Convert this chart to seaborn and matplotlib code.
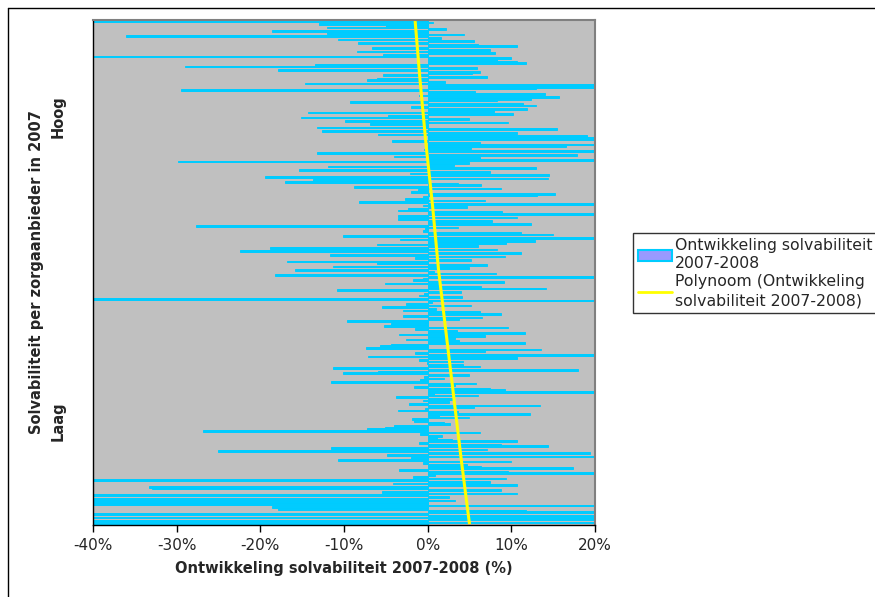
import numpy as np
import pandas as pd
import matplotlib
matplotlib.use("Agg")
import matplotlib.pyplot as plt
from matplotlib.lines import Line2D
from matplotlib.patches import Patch
import seaborn as sns

# =========================================
# Data (top -> bottom, in %)
# =========================================
s1 = [-42, 0.6, -13, -5, -12, 2.2, -18.6, -12, 4.3, -36, 1.6, -10.7, 5.5, -8.3, 6, 10.7,
      -6.7, 7.4, -8.5, 8, -5.3, -42, 10, 8.3, 10.7, 11.8, -13.5, -29, 5.9, -17.9, 6.2, 5.3,
      -5.3, 7.1, -6.1, -7.3, 2.1, -14.7, 21]
s2 = [21, 13, -29.5, 5.7, 14, -1, 15.7, 12.3, 8.3, -9.3, 11.4, 12.9, -2, 11.9, 7.9, -14.3,
      10.2, -4.7, -15.1, 4.9, -9.9, 9.6, -6.9, -0.5, -13.2, 15.4, -12.6, 10.7, -5.9, 19.1,
      21, 21, -4.3, 6.3]
s3 = [21, 16.5, 5.2, -0.4, 21, -13.2, 17.9, -4, 6.2, 21, -29.8, 4.9, 3.1, -11.9, 13, -15.4,
      7.5, -2.1, 14.5, -19.4, 14.4, -13.7, -17, 3.6, 6.4, -8.8, 8.8, -1.2, -2, 15.2, 13.1,
      -0.5, -2.7, 6.8, -8.2, 21]
s4 = [-0.5, 4.7, -2.4, -3.5, 8.9, 21, -3.5, 10.7, -3.5, 7.7, 5.3, 12.4, -27.7, 3.6, -0.3,
      -0.5, 11.1, 15, -10.1, 21, -3.3, 12.8, 9.4, -6.1, 6, -18.9, 8.3, -22.4, 11.2, -11.7,
      9.2, -1.5, 5.2, -16.8, -6, 7.1, -11.3]
s5 = [4.9, -15.9, 0.8, 8.2, -18.3, 21, -0.6, -1.8, 9.1, -5.1, 1.2, 6.4, 14.1, -10.8, 4, -0.4,
      -1, 4.1, -42, 21, 0.5, -2.6, 5.2, -5.5, 1.0, -3, 6.3, 8.8, -2.9, 6.5, 3.8, -9.7, -0.3,
      -4.4, -5.2, 9.6]
s6 = [-1.5, 3.5, 11.6, -3.4, 6.8, 3.3, -2.6, 3.8, 11.6, -4.4, -5.7, -7.4, 13.6, 6.9, -1.5,
      21, -7.1, 10.7, -1, 4.2, -0.1, 4.2, 6.3, -11.3, 18, -5.9, -10.1, 4.9, -0.4, 1.9, -0.9,
      -11.6, 5.8, 3.3, -1.6, 7.5]
s7 = [9.2, 21, 0.7, 6, -3.8, 2.9, -0.5, 2.5, -2.2, 13.4, 5.5, -0.3, -3.5, 3.6, 12.2, 1.4,
      4.9, -1.9, -1.6, 1.9, 2.7, -4, -5.1, -7.2, -26.9, 6.2, -0.9, 1.7, 1.1, 2.9, 10.7,
      -1, 8.8, 14.4]
s8 = [-11.5, 7.1, -25.1, 19.4, -4.9, 21, -2, -10.7, 10, -0.5, 4.7, 6.4, 17.4, -3.4, 9.6,
      21, 0.9, -1.7, 9.4, -42, 7.4, -4.1, 10.7, -33.3, -32.9, 8.8, -5.4, 10.7, -42, 2.5,
      -42, 3.3, -42, -42, 21, -18.6, -17.9, 11.8, 21, -42, 21, -42, 21, -42, 21, -42]

waarden = s1 + s2 + s3 + s4 + s5 + s6 + s7 + s8

# polynomial trendline, read at fractions of the way down the bars
trend_frac = [0.0, 0.12, 0.245, 0.37, 0.495, 0.62, 0.745, 0.87, 1.0]
trend_val = [-1.5, -0.9, -0.2, 0.6, 1.3, 2.2, 3.1, 4.0, 5.0]

x_ticks = [-40, -30, -20, -10, 0, 10, 20]
x_ticklabels = ["-40%", "-30%", "-20%", "-10%", "0%", "10%", "20%"]

df = pd.DataFrame({"rij": [str(i) for i in range(len(waarden))], "ontwikkeling": waarden})
n = len(df)

# =========================================
# Plot
# =========================================
sns.set_style("white")
plt.rcParams["font.family"] = ["DejaVu Sans"]

fig = plt.figure(figsize=(8.75, 5.97), dpi=100)
ax = fig.add_axes([93 / 875, 1 - 525 / 597, (595 - 93) / 875, (525 - 20) / 597])
ax.set_facecolor("#C0C0C0")

sns.barplot(data=df, x="ontwikkeling", y="rij", orient="h", color="#00CCFF",
            saturation=1, width=1.0, edgecolor="#00CCFF", linewidth=0.7, ax=ax)

trend_y = np.array(trend_frac) * (n - 1)
ax.plot(trend_val, trend_y, color="#FFFF00", lw=2.2, solid_capstyle="butt")

ax.set_xlim(-40, 20)
ax.set_ylim(n - 0.5, -0.5)
ax.set_xticks(x_ticks)
ax.set_xticklabels(x_ticklabels, fontsize=11)
ax.set_yticks([])
ax.tick_params(axis="x", direction="out", length=5, width=1, color="black", pad=4, bottom=True)
ax.set_xlabel("Ontwikkeling solvabiliteit 2007-2008 (%)", fontsize=10.5, fontweight="bold",
              labelpad=6)
ax.set_ylabel("")

for side in ["left", "bottom"]:
    ax.spines[side].set_color("black")
    ax.spines[side].set_linewidth(1)
for side in ["top", "right"]:
    ax.spines[side].set_color("#808080")
    ax.spines[side].set_linewidth(1.5)

# y-axis title with Laag / Hoog
fig.text(37 / 875, 1 - 272 / 597, "Solvabiliteit per zorgaanbieder in 2007", rotation=90,
         ha="center", va="center", fontsize=10.5, fontweight="bold")
fig.text(58 / 875, 1 - 421 / 597, "Laag", rotation=90, ha="center", va="center",
         fontsize=10.5, fontweight="bold")
fig.text(58 / 875, 1 - 117 / 597, "Hoog", rotation=90, ha="center", va="center",
         fontsize=10.5, fontweight="bold")

# legend
handles = [
    Patch(facecolor="#9999FF", edgecolor="#00CCFF", linewidth=1.5),
    Line2D([0], [0], color="#FFFF00", lw=2),
]
labels = ["Ontwikkeling solvabiliteit\n2007-2008", "Polynoom (Ontwikkeling\nsolvabiliteit 2007-2008)"]
leg = fig.legend(handles, labels, loc="upper left", bbox_to_anchor=(633 / 875, 1 - 233 / 597),
                 fontsize=11.3, frameon=True, fancybox=False, borderpad=0.3,
                 handlelength=2.2, handletextpad=0.15, labelspacing=0.2, borderaxespad=0)
for t in leg.get_texts():
    t.set_linespacing(1.3)
leg.get_frame().set_edgecolor("black")
leg.get_frame().set_linewidth(1)

# chart area border
fig.add_artist(Line2D([8 / 875, 8 / 875], [0, 1 - 8 / 597], color="black", lw=1))
fig.add_artist(Line2D([8 / 875, 1], [1 - 8 / 597, 1 - 8 / 597], color="black", lw=1))

plt.savefig("out.png", dpi=100)
